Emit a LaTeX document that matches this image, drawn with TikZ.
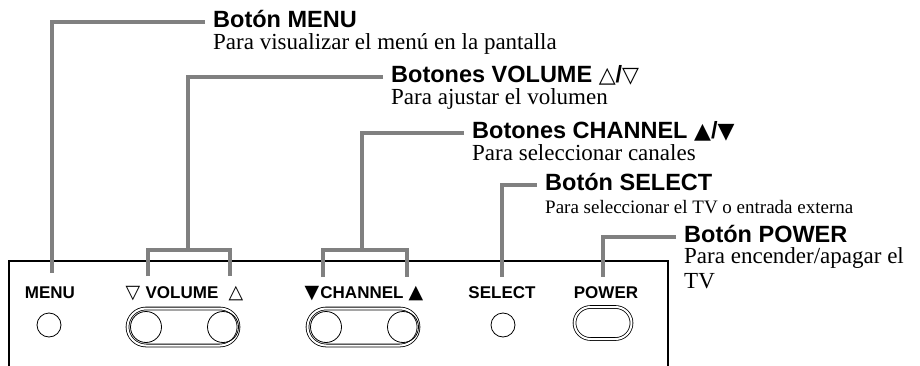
\documentclass[tikz,border=0pt]{standalone}
\usepackage{fontspec}
\setmainfont{Liberation Serif}
\setsansfont{Liberation Sans}
\newfontfamily\trifont{DejaVu Sans}
\newcommand{\headtri}[1]{{\trifont\fontsize{22}{23}\selectfont #1}}
\usetikzlibrary{shapes.misc}
\definecolor{leadgray}{gray}{0.5}

\begin{document}
\begin{tikzpicture}[x=1pt,y=-1pt,
  leader/.style={leadgray,line width=3.5pt},
  panel/.style={black,line width=1.3pt},
  lab/.style={anchor=west,inner xsep=8pt,inner ysep=0pt,text height=11pt,text depth=0pt,font=\sffamily\bfseries\fontsize{23.5}{25}\selectfont},
  desc/.style={anchor=base west,inner xsep=8pt,inner ysep=0pt,align=left,font=\fontsize{23}{25}\selectfont},
  ptext/.style={anchor=base,inner sep=0pt,font=\sffamily\bfseries\fontsize{17}{18}\selectfont},
  ptri/.style={anchor=base,inner sep=0pt,font=\trifont\fontsize{19}{20}\selectfont},
  knob/.style={draw,circle,line width=0.8pt,inner sep=0pt},
  pill/.style={draw,rounded rectangle,double,double distance=2pt,line width=0.8pt,inner sep=0pt}
]
%\draw[step=20,gray,very thin] (0,0) grid (920,366); %background grid
\useasboundingbox (0,0) rectangle (920,366);

\draw[panel] (9,366) -- (9,261) -- (668,261) -- (668,366);

\node[ptext] (tmenu) at (50,298) {MENU};
\node[ptri] (tvdown) at (133,298) {▽};
\node[ptext] (tvol) at (182,298) {VOLUME};
\node[ptri] (tvup) at (236,298) {△};
\node[ptri] (tcdown) at (312,298) {▼};
\node[ptext] (tchan) at (362,298) {CHANNEL};
\node[ptri] (tcup) at (416,298) {▲};
\node[ptext] (tselect) at (502,298) {SELECT};
\node[ptext] (tpower) at (606,298) {POWER};

\node[knob,minimum size=24pt] (kmenu) at (49,325) {};
\node[pill,minimum width=111pt,minimum height=37pt] (pvol) at (183,327) {};
\node[knob,minimum size=31pt] (kvdown) at (146,327) {};
\node[knob,minimum size=31pt] (kvup) at (223,327) {};
\node[pill,minimum width=111pt,minimum height=37pt] (pchan) at (363,327) {};
\node[knob,minimum size=31pt] (kcdown) at (326,327) {};
\node[knob,minimum size=31pt] (kcup) at (403,327) {};
\node[knob,minimum size=24pt] (kselect) at (503,325) {};
\node[pill,minimum width=57pt,minimum height=32pt] (ppower) at (603,323) {};

\coordinate (menuend) at (52,273);
\coordinate (volmid) at (188,250);
\coordinate (vleft) at (148,276);
\coordinate (vright) at (230,276);
\coordinate (chanmid) at (362,250);
\coordinate (cleft) at (323,277);
\coordinate (cright) at (407,277);
\coordinate (selectend) at (502,277);
\coordinate (powerend) at (603,277);

\node[lab] (lmenu) at (205,22) {Botón MENU};
\node[desc] (dmenu) at ([yshift=-22pt]lmenu.base west) {Para visualizar el menú en la pantalla};
\node[lab] (lvol) at (383,77) {Botones VOLUME \headtri{△}/\headtri{▽}};
\node[desc] (dvol) at ([yshift=-22pt]lvol.base west) {Para ajustar el volumen};
\node[lab] (lchan) at (464,133) {Botones CHANNEL \headtri{▲}/\headtri{▼}};
\node[desc] (dchan) at ([yshift=-22pt]lchan.base west) {Para seleccionar canales};
\node[lab] (lselect) at (537,185) {Botón SELECT};
\node[desc,font=\fontsize{19}{21}\selectfont] (dselect) at ([yshift=-23pt]lselect.base west) {Para seleccionar el TV o entrada externa};
\node[lab] (lpower) at (676,237) {Botón POWER};
\node[desc] (dpower) at ([yshift=-46pt]lpower.base west) {Para encender/apagar el\\TV};

\draw[leader] (lmenu.west) -| (menuend);
\draw[leader] (lvol.west) -| (volmid);
\draw[leader] (vleft) |- (volmid) -| (vright);
\draw[leader] (lchan.west) -| (chanmid);
\draw[leader] (cleft) |- (chanmid) -| (cright);
\draw[leader] (lselect.west) -| (selectend);
\draw[leader] (lpower.west) -| (powerend);

\end{tikzpicture}
\end{document}
